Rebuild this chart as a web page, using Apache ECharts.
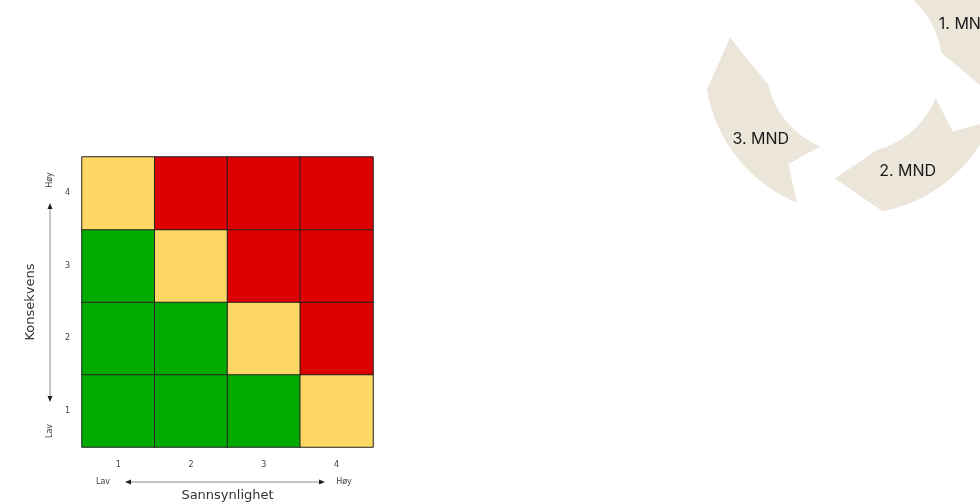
<!DOCTYPE html>
<html><head><meta charset="utf-8">
<script src="https://cdn.jsdelivr.net/npm/echarts@6/dist/echarts.min.js"></script>
<style>html,body{margin:0;padding:0;background:#fff}#c{width:980px;height:502px}</style>
</head><body><div id="c"></div>
<script>
// ---- heatmap data ----
const xCategories = ['1', '2', '3', '4'];
const yCategories = ['1', '2', '3', '4'];
// risk level per row (Konsekvens 1..4), columns Sannsynlighet 1..4 ; 0 = lav, 1 = middels, 2 = høy
const riskRow1 = [0, 0, 0, 1];
const riskRow2 = [0, 0, 1, 2];
const riskRow3 = [0, 1, 2, 2];
const riskRow4 = [1, 2, 2, 2];
const xAxisName = 'Sannsynlighet';
const yAxisName = 'Konsekvens';
const lowLabel = 'Lav';
const highLabel = 'Høy';

// ---- cycle diagram data (angles in degrees, clockwise from 3 o'clock) ----
const cycleLabels = ['1. MND', '2. MND', '3. MND'];
const arrowTail = [285, 22, 112.5];
const arrowBaseInner = [351.6, 75, 167];
const arrowBaseOuter = [355, 79, 170.5];
const arrowTip = [9, 99.5, 192.5];
const arrowTipRadius = [127, 115, 127];
const arrowNotch = [297, 34, 123.5];
const labelAngle = [339.7, 63.2, 141.6];

const R_IN = 88, R_OUT = 149, R_MID = 119;

const riskRows = [riskRow1, riskRow2, riskRow3, riskRow4];
const heatData = [];
riskRows.forEach((row, yi) => row.forEach((v, xi) => heatData.push([xi, yi, v])));

const arrowData = arrowTail.map((t, i) => [t, arrowBaseInner[i], arrowBaseOuter[i], arrowTip[i], arrowTipRadius[i], arrowNotch[i], labelAngle[i]]);

function renderArrow(params, api) {
  const tail = api.value(0);
  const norm = a => ((a % 360) + 360) % 360;
  const unwrap = a => (a < tail ? a + 360 : a);
  const bi = unwrap(api.value(1)), bo = unwrap(api.value(2)), tip = unwrap(api.value(3));
  const tipR = api.value(4), notch = unwrap(api.value(5)), la = api.value(6);
  const pt = (r, a) => api.coord([r, norm(a)]);
  const pts = [];
  const steps = 48;
  for (let k = 0; k <= steps; k++) pts.push(pt(R_OUT, tail + (bo - tail) * k / steps));
  pts.push(pt(tipR, tip));
  for (let k = steps; k >= 0; k--) pts.push(pt(R_IN, tail + (bi - tail) * k / steps));
  pts.push(pt(R_MID, notch));
  const c = pt(R_MID, la);
  return {
    type: 'group',
    children: [
      { type: 'polygon', shape: { points: pts }, style: { fill: '#ECE5DA' } },
      { type: 'text', x: c[0], y: c[1], style: { text: cycleLabels[params.dataIndex], fill: '#1a1a1a', font: '16px Inter', align: 'center', verticalAlign: 'middle' } }
    ]
  };
}

const smallFont = '8px "DejaVu Sans"';
const chart = echarts.init(document.getElementById('c'));
chart.setOption({
  animation: false,
  backgroundColor: '#ffffff',
  grid: { left: 82, top: 157, width: 291, height: 290, containLabel: false, outerBoundsMode: 'none' },
  xAxis: {
    type: 'category', data: xCategories,
    axisLine: { show: false }, axisTick: { show: false }, splitLine: { show: false },
    axisLabel: { margin: 14, fontSize: 8, color: '#444', fontFamily: 'DejaVu Sans' },
    name: xAxisName, nameLocation: 'middle', nameGap: 42,
    nameTextStyle: { fontSize: 13, color: '#333', fontFamily: 'DejaVu Sans' }
  },
  yAxis: {
    type: 'category', data: yCategories,
    axisLine: { show: false }, axisTick: { show: false }, splitLine: { show: false },
    axisLabel: { margin: 12, fontSize: 8, color: '#444', fontFamily: 'DejaVu Sans' },
    name: yAxisName, nameLocation: 'middle', nameGap: 45, nameRotate: 90,
    nameTextStyle: { fontSize: 13, color: '#333', fontFamily: 'DejaVu Sans' }
  },
  polar: { center: [854, 65], radius: [0, R_OUT] },
  angleAxis: { type: 'value', min: 0, max: 360, startAngle: 0, clockwise: true, show: false },
  radiusAxis: { type: 'value', min: 0, max: R_OUT, show: false },
  visualMap: {
    type: 'piecewise', show: false, seriesIndex: 0, dimension: 2,
    pieces: [{ value: 0, color: '#00AB00' }, { value: 1, color: '#FDD865' }, { value: 2, color: '#DE0000' }]
  },
  graphic: [
    { type: 'line', shape: { x1: 130, y1: 482, x2: 320, y2: 482 }, style: { stroke: '#888', lineWidth: 1 } },
    { type: 'polygon', shape: { points: [[125, 482], [131, 479.5], [131, 484.5]] }, style: { fill: '#222' } },
    { type: 'polygon', shape: { points: [[325, 482], [319, 479.5], [319, 484.5]] }, style: { fill: '#222' } },
    { type: 'text', x: 103, y: 482, style: { text: lowLabel, font: smallFont, fill: '#444', align: 'center', verticalAlign: 'middle' } },
    { type: 'text', x: 344, y: 482, style: { text: highLabel, font: smallFont, fill: '#444', align: 'center', verticalAlign: 'middle' } },
    { type: 'line', shape: { x1: 50, y1: 208, x2: 50, y2: 397 }, style: { stroke: '#888', lineWidth: 1 } },
    { type: 'polygon', shape: { points: [[50, 203], [47.5, 209], [52.5, 209]] }, style: { fill: '#222' } },
    { type: 'polygon', shape: { points: [[50, 402], [47.5, 396], [52.5, 396]] }, style: { fill: '#222' } },
    { type: 'text', x: 50, y: 180, rotation: Math.PI / 2, style: { text: highLabel, font: smallFont, fill: '#444', align: 'center', verticalAlign: 'middle' } },
    { type: 'text', x: 50, y: 431, rotation: Math.PI / 2, style: { text: lowLabel, font: smallFont, fill: '#444', align: 'center', verticalAlign: 'middle' } }
  ],
  series: [
    {
      type: 'heatmap', data: heatData,
      itemStyle: { borderColor: '#222', borderWidth: 1 },
      emphasis: { disabled: true }, silent: true
    },
    {
      type: 'custom', coordinateSystem: 'polar', data: arrowData,
      renderItem: renderArrow, silent: true
    }
  ]
});
</script>
</body></html>
